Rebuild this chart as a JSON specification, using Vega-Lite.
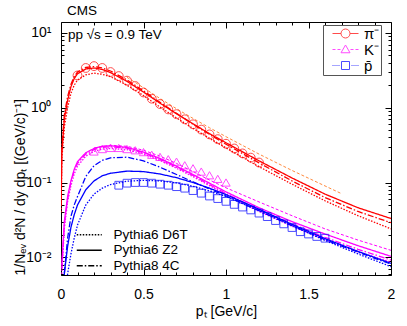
{
"$schema": "https://vega.github.io/schema/vega-lite/v6.json",
"width": 330, "height": 253,
"autosize": {"type": "none"},
"padding": {"left": 61, "top": 22, "right": 16, "bottom": 51},
"background": "white",
"title": {"text": "CMS", "anchor": "start", "frame": "group", "dx": 6, "offset": 4, "fontSize": 13.5, "fontWeight": "normal", "color": "black"},
"datasets": {
"curves": [
{"particle":"π⁻","model":"Pythia6 Z2","pt":0.001,"val":0.05},{"particle":"π⁻","model":"Pythia6 Z2","pt":0.005,"val":0.25},{"particle":"π⁻","model":"Pythia6 Z2","pt":0.02,"val":0.7},{"particle":"π⁻","model":"Pythia6 Z2","pt":0.04,"val":1.25},{"particle":"π⁻","model":"Pythia6 Z2","pt":0.06,"val":1.9},{"particle":"π⁻","model":"Pythia6 Z2","pt":0.08,"val":2.45},{"particle":"π⁻","model":"Pythia6 Z2","pt":0.1,"val":2.85},{"particle":"π⁻","model":"Pythia6 Z2","pt":0.15,"val":3.3},{"particle":"π⁻","model":"Pythia6 Z2","pt":0.2,"val":3.4},{"particle":"π⁻","model":"Pythia6 Z2","pt":0.25,"val":3.25},{"particle":"π⁻","model":"Pythia6 Z2","pt":0.3,"val":2.95},{"particle":"π⁻","model":"Pythia6 Z2","pt":0.4,"val":2.25},{"particle":"π⁻","model":"Pythia6 Z2","pt":0.5,"val":1.62},{"particle":"π⁻","model":"Pythia6 Z2","pt":0.6,"val":1.15},{"particle":"π⁻","model":"Pythia6 Z2","pt":0.7,"val":0.83},{"particle":"π⁻","model":"Pythia6 Z2","pt":0.8,"val":0.61},{"particle":"π⁻","model":"Pythia6 Z2","pt":0.9,"val":0.45},{"particle":"π⁻","model":"Pythia6 Z2","pt":1.0,"val":0.34},{"particle":"π⁻","model":"Pythia6 Z2","pt":1.2,"val":0.195},{"particle":"π⁻","model":"Pythia6 Z2","pt":1.4,"val":0.115},{"particle":"π⁻","model":"Pythia6 Z2","pt":1.6,"val":0.07},{"particle":"π⁻","model":"Pythia6 Z2","pt":1.8,"val":0.046},{"particle":"π⁻","model":"Pythia6 Z2","pt":2.0,"val":0.033},
{"particle":"π⁻","model":"Pythia6 D6T","pt":0.001,"val":0.04},{"particle":"π⁻","model":"Pythia6 D6T","pt":0.005,"val":0.2},{"particle":"π⁻","model":"Pythia6 D6T","pt":0.02,"val":0.55},{"particle":"π⁻","model":"Pythia6 D6T","pt":0.04,"val":1.0},{"particle":"π⁻","model":"Pythia6 D6T","pt":0.06,"val":1.55},{"particle":"π⁻","model":"Pythia6 D6T","pt":0.08,"val":2.0},{"particle":"π⁻","model":"Pythia6 D6T","pt":0.1,"val":2.35},{"particle":"π⁻","model":"Pythia6 D6T","pt":0.15,"val":2.75},{"particle":"π⁻","model":"Pythia6 D6T","pt":0.2,"val":2.9},{"particle":"π⁻","model":"Pythia6 D6T","pt":0.25,"val":2.8},{"particle":"π⁻","model":"Pythia6 D6T","pt":0.3,"val":2.6},{"particle":"π⁻","model":"Pythia6 D6T","pt":0.4,"val":2.0},{"particle":"π⁻","model":"Pythia6 D6T","pt":0.5,"val":1.45},{"particle":"π⁻","model":"Pythia6 D6T","pt":0.6,"val":1.02},{"particle":"π⁻","model":"Pythia6 D6T","pt":0.7,"val":0.73},{"particle":"π⁻","model":"Pythia6 D6T","pt":0.8,"val":0.53},{"particle":"π⁻","model":"Pythia6 D6T","pt":0.9,"val":0.39},{"particle":"π⁻","model":"Pythia6 D6T","pt":1.0,"val":0.29},{"particle":"π⁻","model":"Pythia6 D6T","pt":1.2,"val":0.163},{"particle":"π⁻","model":"Pythia6 D6T","pt":1.4,"val":0.095},{"particle":"π⁻","model":"Pythia6 D6T","pt":1.6,"val":0.057},{"particle":"π⁻","model":"Pythia6 D6T","pt":1.8,"val":0.036},{"particle":"π⁻","model":"Pythia6 D6T","pt":2.0,"val":0.024},
{"particle":"π⁻","model":"Pythia8 4C","pt":0.001,"val":0.06},{"particle":"π⁻","model":"Pythia8 4C","pt":0.005,"val":0.3},{"particle":"π⁻","model":"Pythia8 4C","pt":0.02,"val":0.8},{"particle":"π⁻","model":"Pythia8 4C","pt":0.04,"val":1.4},{"particle":"π⁻","model":"Pythia8 4C","pt":0.06,"val":2.05},{"particle":"π⁻","model":"Pythia8 4C","pt":0.08,"val":2.6},{"particle":"π⁻","model":"Pythia8 4C","pt":0.1,"val":3.0},{"particle":"π⁻","model":"Pythia8 4C","pt":0.15,"val":3.45},{"particle":"π⁻","model":"Pythia8 4C","pt":0.2,"val":3.55},{"particle":"π⁻","model":"Pythia8 4C","pt":0.25,"val":3.4},{"particle":"π⁻","model":"Pythia8 4C","pt":0.3,"val":3.1},{"particle":"π⁻","model":"Pythia8 4C","pt":0.4,"val":2.35},{"particle":"π⁻","model":"Pythia8 4C","pt":0.5,"val":1.68},{"particle":"π⁻","model":"Pythia8 4C","pt":0.6,"val":1.18},{"particle":"π⁻","model":"Pythia8 4C","pt":0.7,"val":0.84},{"particle":"π⁻","model":"Pythia8 4C","pt":0.8,"val":0.6},{"particle":"π⁻","model":"Pythia8 4C","pt":0.9,"val":0.44},{"particle":"π⁻","model":"Pythia8 4C","pt":1.0,"val":0.325},{"particle":"π⁻","model":"Pythia8 4C","pt":1.2,"val":0.183},{"particle":"π⁻","model":"Pythia8 4C","pt":1.4,"val":0.105},{"particle":"π⁻","model":"Pythia8 4C","pt":1.6,"val":0.063},{"particle":"π⁻","model":"Pythia8 4C","pt":1.8,"val":0.041},{"particle":"π⁻","model":"Pythia8 4C","pt":2.0,"val":0.029},
{"particle":"K⁻","model":"Pythia6 Z2","pt":0.005,"val":0.008},{"particle":"K⁻","model":"Pythia6 Z2","pt":0.02,"val":0.03},{"particle":"K⁻","model":"Pythia6 Z2","pt":0.04,"val":0.065},{"particle":"K⁻","model":"Pythia6 Z2","pt":0.06,"val":0.105},{"particle":"K⁻","model":"Pythia6 Z2","pt":0.08,"val":0.15},{"particle":"K⁻","model":"Pythia6 Z2","pt":0.1,"val":0.19},{"particle":"K⁻","model":"Pythia6 Z2","pt":0.15,"val":0.25},{"particle":"K⁻","model":"Pythia6 Z2","pt":0.2,"val":0.285},{"particle":"K⁻","model":"Pythia6 Z2","pt":0.25,"val":0.305},{"particle":"K⁻","model":"Pythia6 Z2","pt":0.3,"val":0.31},{"particle":"K⁻","model":"Pythia6 Z2","pt":0.4,"val":0.295},{"particle":"K⁻","model":"Pythia6 Z2","pt":0.5,"val":0.255},{"particle":"K⁻","model":"Pythia6 Z2","pt":0.6,"val":0.21},{"particle":"K⁻","model":"Pythia6 Z2","pt":0.7,"val":0.165},{"particle":"K⁻","model":"Pythia6 Z2","pt":0.8,"val":0.128},{"particle":"K⁻","model":"Pythia6 Z2","pt":0.9,"val":0.098},{"particle":"K⁻","model":"Pythia6 Z2","pt":1.0,"val":0.075},{"particle":"K⁻","model":"Pythia6 Z2","pt":1.2,"val":0.046},{"particle":"K⁻","model":"Pythia6 Z2","pt":1.4,"val":0.03},{"particle":"K⁻","model":"Pythia6 Z2","pt":1.6,"val":0.0205},{"particle":"K⁻","model":"Pythia6 Z2","pt":1.8,"val":0.0143},{"particle":"K⁻","model":"Pythia6 Z2","pt":2.0,"val":0.0103},
{"particle":"K⁻","model":"Pythia6 D6T","pt":0.005,"val":0.006},{"particle":"K⁻","model":"Pythia6 D6T","pt":0.02,"val":0.024},{"particle":"K⁻","model":"Pythia6 D6T","pt":0.04,"val":0.055},{"particle":"K⁻","model":"Pythia6 D6T","pt":0.06,"val":0.09},{"particle":"K⁻","model":"Pythia6 D6T","pt":0.08,"val":0.13},{"particle":"K⁻","model":"Pythia6 D6T","pt":0.1,"val":0.165},{"particle":"K⁻","model":"Pythia6 D6T","pt":0.15,"val":0.225},{"particle":"K⁻","model":"Pythia6 D6T","pt":0.2,"val":0.26},{"particle":"K⁻","model":"Pythia6 D6T","pt":0.25,"val":0.28},{"particle":"K⁻","model":"Pythia6 D6T","pt":0.3,"val":0.285},{"particle":"K⁻","model":"Pythia6 D6T","pt":0.4,"val":0.275},{"particle":"K⁻","model":"Pythia6 D6T","pt":0.5,"val":0.24},{"particle":"K⁻","model":"Pythia6 D6T","pt":0.6,"val":0.197},{"particle":"K⁻","model":"Pythia6 D6T","pt":0.7,"val":0.155},{"particle":"K⁻","model":"Pythia6 D6T","pt":0.8,"val":0.12},{"particle":"K⁻","model":"Pythia6 D6T","pt":0.9,"val":0.091},{"particle":"K⁻","model":"Pythia6 D6T","pt":1.0,"val":0.069},{"particle":"K⁻","model":"Pythia6 D6T","pt":1.2,"val":0.041},{"particle":"K⁻","model":"Pythia6 D6T","pt":1.4,"val":0.026},{"particle":"K⁻","model":"Pythia6 D6T","pt":1.6,"val":0.0172},{"particle":"K⁻","model":"Pythia6 D6T","pt":1.8,"val":0.0118},{"particle":"K⁻","model":"Pythia6 D6T","pt":2.0,"val":0.0086},
{"particle":"K⁻","model":"Pythia8 4C","pt":0.005,"val":0.007},{"particle":"K⁻","model":"Pythia8 4C","pt":0.02,"val":0.027},{"particle":"K⁻","model":"Pythia8 4C","pt":0.04,"val":0.06},{"particle":"K⁻","model":"Pythia8 4C","pt":0.06,"val":0.1},{"particle":"K⁻","model":"Pythia8 4C","pt":0.08,"val":0.142},{"particle":"K⁻","model":"Pythia8 4C","pt":0.1,"val":0.18},{"particle":"K⁻","model":"Pythia8 4C","pt":0.15,"val":0.24},{"particle":"K⁻","model":"Pythia8 4C","pt":0.2,"val":0.275},{"particle":"K⁻","model":"Pythia8 4C","pt":0.25,"val":0.295},{"particle":"K⁻","model":"Pythia8 4C","pt":0.3,"val":0.3},{"particle":"K⁻","model":"Pythia8 4C","pt":0.4,"val":0.288},{"particle":"K⁻","model":"Pythia8 4C","pt":0.5,"val":0.25},{"particle":"K⁻","model":"Pythia8 4C","pt":0.6,"val":0.205},{"particle":"K⁻","model":"Pythia8 4C","pt":0.7,"val":0.16},{"particle":"K⁻","model":"Pythia8 4C","pt":0.8,"val":0.124},{"particle":"K⁻","model":"Pythia8 4C","pt":0.9,"val":0.094},{"particle":"K⁻","model":"Pythia8 4C","pt":1.0,"val":0.071},{"particle":"K⁻","model":"Pythia8 4C","pt":1.2,"val":0.043},{"particle":"K⁻","model":"Pythia8 4C","pt":1.4,"val":0.028},{"particle":"K⁻","model":"Pythia8 4C","pt":1.6,"val":0.0185},{"particle":"K⁻","model":"Pythia8 4C","pt":1.8,"val":0.0128},{"particle":"K⁻","model":"Pythia8 4C","pt":2.0,"val":0.0092},
{"particle":"p̄","model":"Pythia6 Z2","pt":0.005,"val":0.001},{"particle":"p̄","model":"Pythia6 Z2","pt":0.02,"val":0.006},{"particle":"p̄","model":"Pythia6 Z2","pt":0.04,"val":0.014},{"particle":"p̄","model":"Pythia6 Z2","pt":0.06,"val":0.025},{"particle":"p̄","model":"Pythia6 Z2","pt":0.08,"val":0.037},{"particle":"p̄","model":"Pythia6 Z2","pt":0.1,"val":0.05},{"particle":"p̄","model":"Pythia6 Z2","pt":0.15,"val":0.08},{"particle":"p̄","model":"Pythia6 Z2","pt":0.2,"val":0.105},{"particle":"p̄","model":"Pythia6 Z2","pt":0.25,"val":0.123},{"particle":"p̄","model":"Pythia6 Z2","pt":0.3,"val":0.133},{"particle":"p̄","model":"Pythia6 Z2","pt":0.4,"val":0.142},{"particle":"p̄","model":"Pythia6 Z2","pt":0.5,"val":0.14},{"particle":"p̄","model":"Pythia6 Z2","pt":0.6,"val":0.13},{"particle":"p̄","model":"Pythia6 Z2","pt":0.7,"val":0.116},{"particle":"p̄","model":"Pythia6 Z2","pt":0.8,"val":0.1},{"particle":"p̄","model":"Pythia6 Z2","pt":0.9,"val":0.084},{"particle":"p̄","model":"Pythia6 Z2","pt":1.0,"val":0.069},{"particle":"p̄","model":"Pythia6 Z2","pt":1.2,"val":0.044},{"particle":"p̄","model":"Pythia6 Z2","pt":1.4,"val":0.0275},{"particle":"p̄","model":"Pythia6 Z2","pt":1.6,"val":0.0178},{"particle":"p̄","model":"Pythia6 Z2","pt":1.8,"val":0.012},{"particle":"p̄","model":"Pythia6 Z2","pt":2.0,"val":0.0083},
{"particle":"p̄","model":"Pythia6 D6T","pt":0.005,"val":0.0004},{"particle":"p̄","model":"Pythia6 D6T","pt":0.02,"val":0.002},{"particle":"p̄","model":"Pythia6 D6T","pt":0.04,"val":0.006},{"particle":"p̄","model":"Pythia6 D6T","pt":0.06,"val":0.011},{"particle":"p̄","model":"Pythia6 D6T","pt":0.08,"val":0.018},{"particle":"p̄","model":"Pythia6 D6T","pt":0.1,"val":0.027},{"particle":"p̄","model":"Pythia6 D6T","pt":0.15,"val":0.05},{"particle":"p̄","model":"Pythia6 D6T","pt":0.2,"val":0.07},{"particle":"p̄","model":"Pythia6 D6T","pt":0.25,"val":0.084},{"particle":"p̄","model":"Pythia6 D6T","pt":0.3,"val":0.094},{"particle":"p̄","model":"Pythia6 D6T","pt":0.4,"val":0.104},{"particle":"p̄","model":"Pythia6 D6T","pt":0.5,"val":0.107},{"particle":"p̄","model":"Pythia6 D6T","pt":0.6,"val":0.105},{"particle":"p̄","model":"Pythia6 D6T","pt":0.7,"val":0.099},{"particle":"p̄","model":"Pythia6 D6T","pt":0.8,"val":0.089},{"particle":"p̄","model":"Pythia6 D6T","pt":0.9,"val":0.077},{"particle":"p̄","model":"Pythia6 D6T","pt":1.0,"val":0.065},{"particle":"p̄","model":"Pythia6 D6T","pt":1.2,"val":0.042},{"particle":"p̄","model":"Pythia6 D6T","pt":1.4,"val":0.0265},{"particle":"p̄","model":"Pythia6 D6T","pt":1.6,"val":0.0168},{"particle":"p̄","model":"Pythia6 D6T","pt":1.8,"val":0.0111},{"particle":"p̄","model":"Pythia6 D6T","pt":2.0,"val":0.0075},
{"particle":"p̄","model":"Pythia8 4C","pt":0.005,"val":0.0015},{"particle":"p̄","model":"Pythia8 4C","pt":0.02,"val":0.006},{"particle":"p̄","model":"Pythia8 4C","pt":0.04,"val":0.018},{"particle":"p̄","model":"Pythia8 4C","pt":0.06,"val":0.035},{"particle":"p̄","model":"Pythia8 4C","pt":0.08,"val":0.05},{"particle":"p̄","model":"Pythia8 4C","pt":0.1,"val":0.065},{"particle":"p̄","model":"Pythia8 4C","pt":0.15,"val":0.12},{"particle":"p̄","model":"Pythia8 4C","pt":0.2,"val":0.168},{"particle":"p̄","model":"Pythia8 4C","pt":0.25,"val":0.198},{"particle":"p̄","model":"Pythia8 4C","pt":0.3,"val":0.214},{"particle":"p̄","model":"Pythia8 4C","pt":0.4,"val":0.218},{"particle":"p̄","model":"Pythia8 4C","pt":0.5,"val":0.195},{"particle":"p̄","model":"Pythia8 4C","pt":0.6,"val":0.16},{"particle":"p̄","model":"Pythia8 4C","pt":0.7,"val":0.128},{"particle":"p̄","model":"Pythia8 4C","pt":0.8,"val":0.102},{"particle":"p̄","model":"Pythia8 4C","pt":0.9,"val":0.082},{"particle":"p̄","model":"Pythia8 4C","pt":1.0,"val":0.066},{"particle":"p̄","model":"Pythia8 4C","pt":1.2,"val":0.042},{"particle":"p̄","model":"Pythia8 4C","pt":1.4,"val":0.0265},{"particle":"p̄","model":"Pythia8 4C","pt":1.6,"val":0.0172},{"particle":"p̄","model":"Pythia8 4C","pt":1.8,"val":0.0117},{"particle":"p̄","model":"Pythia8 4C","pt":2.0,"val":0.0081}
],
"piExtra": [
{"pt":0.4,"val":2.55},{"pt":0.5,"val":1.85},{"pt":0.6,"val":1.33},{"pt":0.7,"val":0.97},{"pt":0.8,"val":0.72},{"pt":0.9,"val":0.54},{"pt":1.0,"val":0.41},{"pt":1.2,"val":0.24},{"pt":1.4,"val":0.145},{"pt":1.6,"val":0.09},{"pt":1.7,"val":0.071}
],
"kExtra": [
{"pt":0.2,"val":0.29},{"pt":0.3,"val":0.315},{"pt":0.4,"val":0.305},{"pt":0.5,"val":0.27},{"pt":0.6,"val":0.225},{"pt":0.7,"val":0.18},{"pt":0.8,"val":0.14},{"pt":0.9,"val":0.108},{"pt":1.0,"val":0.085},{"pt":1.2,"val":0.055},{"pt":1.4,"val":0.036},{"pt":1.6,"val":0.024},{"pt":1.8,"val":0.017},{"pt":2.0,"val":0.0124}
],
"points": [
{"particle":"π⁻","pt":0.10,"val":2.7},{"particle":"π⁻","pt":0.15,"val":3.4},{"particle":"π⁻","pt":0.20,"val":3.6},{"particle":"π⁻","pt":0.25,"val":3.4},{"particle":"π⁻","pt":0.30,"val":3.0},{"particle":"π⁻","pt":0.35,"val":2.65},{"particle":"π⁻","pt":0.40,"val":2.3},{"particle":"π⁻","pt":0.45,"val":1.95},{"particle":"π⁻","pt":0.50,"val":1.6},{"particle":"π⁻","pt":0.55,"val":1.32},{"particle":"π⁻","pt":0.60,"val":1.12},{"particle":"π⁻","pt":0.65,"val":0.95},{"particle":"π⁻","pt":0.70,"val":0.82},{"particle":"π⁻","pt":0.75,"val":0.70},{"particle":"π⁻","pt":0.80,"val":0.60},{"particle":"π⁻","pt":0.85,"val":0.51},{"particle":"π⁻","pt":0.90,"val":0.44},{"particle":"π⁻","pt":0.95,"val":0.38},{"particle":"π⁻","pt":1.00,"val":0.33},{"particle":"π⁻","pt":1.05,"val":0.285},{"particle":"π⁻","pt":1.10,"val":0.245},{"particle":"π⁻","pt":1.15,"val":0.215},{"particle":"π⁻","pt":1.20,"val":0.185},
{"particle":"K⁻","pt":0.20,"val":0.26},{"particle":"K⁻","pt":0.25,"val":0.28},{"particle":"K⁻","pt":0.30,"val":0.29},{"particle":"K⁻","pt":0.35,"val":0.29},{"particle":"K⁻","pt":0.40,"val":0.28},{"particle":"K⁻","pt":0.45,"val":0.27},{"particle":"K⁻","pt":0.50,"val":0.255},{"particle":"K⁻","pt":0.55,"val":0.235},{"particle":"K⁻","pt":0.60,"val":0.22},{"particle":"K⁻","pt":0.65,"val":0.205},{"particle":"K⁻","pt":0.70,"val":0.19},{"particle":"K⁻","pt":0.75,"val":0.17},{"particle":"K⁻","pt":0.80,"val":0.155},{"particle":"K⁻","pt":0.85,"val":0.14},{"particle":"K⁻","pt":0.90,"val":0.125},{"particle":"K⁻","pt":0.95,"val":0.112},{"particle":"K⁻","pt":1.00,"val":0.10},
{"particle":"p̄","pt":0.35,"val":0.092},{"particle":"p̄","pt":0.40,"val":0.098},{"particle":"p̄","pt":0.45,"val":0.1},{"particle":"p̄","pt":0.50,"val":0.1},{"particle":"p̄","pt":0.55,"val":0.098},{"particle":"p̄","pt":0.60,"val":0.095},{"particle":"p̄","pt":0.65,"val":0.092},{"particle":"p̄","pt":0.70,"val":0.088},{"particle":"p̄","pt":0.75,"val":0.084},{"particle":"p̄","pt":0.80,"val":0.078},{"particle":"p̄","pt":0.85,"val":0.072},{"particle":"p̄","pt":0.90,"val":0.066},{"particle":"p̄","pt":0.95,"val":0.061},{"particle":"p̄","pt":1.00,"val":0.056},{"particle":"p̄","pt":1.05,"val":0.051},{"particle":"p̄","pt":1.10,"val":0.047},{"particle":"p̄","pt":1.15,"val":0.043},{"particle":"p̄","pt":1.20,"val":0.039},{"particle":"p̄","pt":1.25,"val":0.035},{"particle":"p̄","pt":1.30,"val":0.031},{"particle":"p̄","pt":1.35,"val":0.028},{"particle":"p̄","pt":1.40,"val":0.025},{"particle":"p̄","pt":1.45,"val":0.022},{"particle":"p̄","pt":1.50,"val":0.0205},{"particle":"p̄","pt":1.55,"val":0.019},{"particle":"p̄","pt":1.60,"val":0.018}
]
},
"layer": [
{
"data": {"name": "piExtra"},
"mark": {"type": "line", "color": "#ff8a3d", "strokeWidth": 1, "strokeDash": [3, 2], "clip": true},
"encoding": {
"x": {"field": "pt", "type": "quantitative", "scale": {"domain": [0, 2], "nice": false, "zero": false}, "axis": null},
"y": {"field": "val", "type": "quantitative", "scale": {"type": "log", "domain": [0.0058, 14], "nice": false}, "axis": null}
}
},
{
"data": {"name": "kExtra"},
"mark": {"type": "line", "color": "#ff00ff", "strokeWidth": 1, "strokeDash": [3, 2], "clip": true},
"encoding": {
"x": {"field": "pt", "type": "quantitative", "scale": {"domain": [0, 2], "nice": false, "zero": false}, "axis": null},
"y": {"field": "val", "type": "quantitative", "scale": {"type": "log", "domain": [0.0058, 14], "nice": false}, "axis": null}
}
},
{
"data": {"name": "points"},
"transform": [{"filter": "false"}],
"mark": {"type": "point", "filled": false, "strokeWidth": 1},
"encoding": {
"x": {"field": "pt", "type": "quantitative", "scale": {"domain": [0, 2], "nice": false, "zero": false}, "axis": null},
"y": {"field": "val", "type": "quantitative", "scale": {"type": "log", "domain": [0.0058, 14], "nice": false}, "axis": null},
"color": {"field": "particle", "type": "nominal", "scale": {"domain": ["π⁻", "K⁻", "p̄"], "range": ["#ff0000", "#ff00ff", "#0000ff"]},
 "legend": {"title": null, "orient": "none", "legendX": 262, "legendY": 3, "padding": 1, "strokeColor": "#555555", "labelFontSize": 15, "labelOffset": 25, "rowPadding": 0, "symbolSize": 100, "symbolStrokeWidth": 1, "symbolFillColor": "transparent"}},
"shape": {"field": "particle", "type": "nominal", "scale": {"domain": ["π⁻", "K⁻", "p̄"], "range": ["M0.2,0H1.9M3.7,0H5.4M1.9,0A0.9,0.9,0,1,1,3.7,0A0.9,0.9,0,1,1,1.9,0", "M1.9,0.65L2.8,-0.9L3.7,0.65ZM0.2,0H0.8M1.2,0H1.8M3.8,0H4.4M4.8,0H5.4", "M2,-0.8H3.6V0.8H2ZM0.2,0H0.4M0.6,0H0.8M1,0H1.2M1.4,0H1.6M4,0H4.2M4.4,0H4.6M4.8,0H5M5.2,0H5.4"]},
 "legend": {"title": null, "orient": "none", "legendX": 262, "legendY": 3, "padding": 1, "strokeColor": "#555555", "labelFontSize": 15, "labelOffset": 25, "rowPadding": 0, "symbolSize": 100, "symbolStrokeWidth": 1, "symbolFillColor": "transparent"}}
}
},
{
"data": {"name": "curves"},
"mark": {"type": "line", "strokeWidth": 1.3, "clip": true},
"encoding": {
"x": {"field": "pt", "type": "quantitative", "scale": {"domain": [0, 2], "nice": false, "zero": false},
 "axis": {"orient": "bottom", "values": [0, 0.5, 1, 1.5, 2], "format": "~g", "ticks": false, "domain": false, "labelPadding": 12, "labelFlush": false, "title": "pₜ [GeV/c]", "titlePadding": 3}},
"y": {"field": "val", "type": "quantitative", "scale": {"type": "log", "domain": [0.0058, 14], "nice": false},
 "axis": {"orient": "left", "values": [0.01, 0.1, 1, 10], "labelExpr": "datum.value >= 5 ? '10¹' : datum.value >= 0.5 ? '10⁰' : datum.value >= 0.05 ? '10⁻¹' : '10⁻²'", "ticks": false, "domain": false, "labelPadding": 10, "title": "1/Nₑᵥ d²N / dy dpₜ [(GeV/c)⁻¹]", "titleAnchor": "start", "titlePadding": -2}},
"color": {"field": "particle", "type": "nominal"},
"strokeDash": {"field": "model", "type": "nominal", "scale": {"domain": ["Pythia6 D6T", "Pythia6 Z2", "Pythia8 4C"], "range": [[1.5, 1.5], [1, 0], [6, 2, 1.5, 2]]},
 "legend": {"title": null, "orient": "none", "legendX": 9, "legendY": 206, "padding": 0, "labelFontSize": 13.5, "labelOffset": 30, "rowPadding": 0.5, "symbolType": "M0,0H5", "symbolSize": 100, "symbolStrokeColor": "black", "symbolStrokeWidth": 1.3}}
}
},
{
"data": {"name": "points"},
"transform": [{"filter": "datum.particle === 'π⁻'"}],
"mark": {"type": "point", "shape": "circle", "filled": false, "strokeWidth": 1, "size": 78, "clip": true},
"encoding": {
"x": {"field": "pt", "type": "quantitative", "scale": {"domain": [0, 2], "nice": false, "zero": false}, "axis": null},
"y": {"field": "val", "type": "quantitative", "scale": {"type": "log", "domain": [0.0058, 14], "nice": false}, "axis": null},
"color": {"field": "particle", "type": "nominal"}
}
},
{
"data": {"name": "points"},
"transform": [{"filter": "datum.particle === 'K⁻'"}],
"mark": {"type": "point", "shape": "triangle-up", "filled": false, "strokeWidth": 1, "size": 70, "clip": true},
"encoding": {
"x": {"field": "pt", "type": "quantitative", "scale": {"domain": [0, 2], "nice": false, "zero": false}, "axis": null},
"y": {"field": "val", "type": "quantitative", "scale": {"type": "log", "domain": [0.0058, 14], "nice": false}, "axis": null},
"color": {"field": "particle", "type": "nominal"}
}
},
{
"data": {"name": "points"},
"transform": [{"filter": "datum.particle !== 'π⁻' && datum.particle !== 'K⁻'"}],
"mark": {"type": "point", "shape": "square", "filled": false, "strokeWidth": 1, "size": 60, "clip": true},
"encoding": {
"x": {"field": "pt", "type": "quantitative", "scale": {"domain": [0, 2], "nice": false, "zero": false}, "axis": null},
"y": {"field": "val", "type": "quantitative", "scale": {"type": "log", "domain": [0.0058, 14], "nice": false}, "axis": null},
"color": {"field": "particle", "type": "nominal"}
}
},
{
"data": {"values": [{}]},
"mark": {"type": "text", "align": "left", "baseline": "middle", "fontSize": 13.5, "text": "pp √s = 0.9 TeV", "color": "black"},
"encoding": {
"x": {"datum": 0.042, "type": "quantitative", "scale": {"domain": [0, 2], "nice": false, "zero": false}, "axis": null},
"y": {"datum": 9.4, "type": "quantitative", "scale": {"type": "log", "domain": [0.0058, 14], "nice": false}, "axis": null}
}
},
{
"data": {"values": [{}]},
"mark": {"type": "point", "opacity": 0},
"encoding": {
"x": {"datum": 1, "type": "quantitative", "scale": {"domain": [0, 2], "nice": false, "zero": false}, "axis": {"orient": "bottom", "values": [0, 0.5, 1, 1.5, 2], "labels": false, "title": null, "domain": false, "tickSize": -6}},
"y": {"datum": 1, "type": "quantitative", "scale": {"type": "log", "domain": [0.0058, 14], "nice": false}, "axis": {"orient": "left", "values": [0.01, 0.1, 1, 10], "labels": false, "title": null, "domain": false, "tickSize": -6}}
}
},
{
"data": {"values": [{}]},
"mark": {"type": "point", "opacity": 0},
"encoding": {
"x": {"datum": 1, "type": "quantitative", "scale": {"domain": [0, 2], "nice": false, "zero": false}, "axis": {"orient": "top", "values": [0, 0.5, 1, 1.5, 2], "labels": false, "title": null, "domain": false, "tickSize": -6}},
"y": {"datum": 1, "type": "quantitative", "scale": {"type": "log", "domain": [0.0058, 14], "nice": false}, "axis": {"orient": "right", "values": [0.01, 0.1, 1, 10], "labels": false, "title": null, "domain": false, "tickSize": -6}}
}
},
{
"data": {"values": [{}]},
"mark": {"type": "point", "opacity": 0},
"encoding": {
"x": {"datum": 1, "type": "quantitative", "scale": {"domain": [0, 2], "nice": false, "zero": false}, "axis": {"orient": "bottom", "values": [0.1, 0.2, 0.3, 0.4, 0.6, 0.7, 0.8, 0.9, 1.1, 1.2, 1.3, 1.4, 1.6, 1.7, 1.8, 1.9], "labels": false, "title": null, "domain": false, "tickSize": -3}},
"y": {"datum": 1, "type": "quantitative", "scale": {"type": "log", "domain": [0.0058, 14], "nice": false}, "axis": {"orient": "left", "values": [0.006, 0.007, 0.008, 0.009, 0.02, 0.03, 0.04, 0.05, 0.06, 0.07, 0.08, 0.09, 0.2, 0.3, 0.4, 0.5, 0.6, 0.7, 0.8, 0.9, 2, 3, 4, 5, 6, 7, 8, 9], "labels": false, "title": null, "domain": false, "tickSize": -3}}
}
},
{
"data": {"values": [{}]},
"mark": {"type": "point", "opacity": 0},
"encoding": {
"x": {"datum": 1, "type": "quantitative", "scale": {"domain": [0, 2], "nice": false, "zero": false}, "axis": {"orient": "top", "values": [0.1, 0.2, 0.3, 0.4, 0.6, 0.7, 0.8, 0.9, 1.1, 1.2, 1.3, 1.4, 1.6, 1.7, 1.8, 1.9], "labels": false, "title": null, "domain": false, "tickSize": -3}},
"y": {"datum": 1, "type": "quantitative", "scale": {"type": "log", "domain": [0.0058, 14], "nice": false}, "axis": {"orient": "right", "values": [0.006, 0.007, 0.008, 0.009, 0.02, 0.03, 0.04, 0.05, 0.06, 0.07, 0.08, 0.09, 0.2, 0.3, 0.4, 0.5, 0.6, 0.7, 0.8, 0.9, 2, 3, 4, 5, 6, 7, 8, 9], "labels": false, "title": null, "domain": false, "tickSize": -3}}
}
}
],
"resolve": {"axis": {"x": "independent", "y": "independent"}},
"config": {
"font": "Liberation Sans",
"view": {"stroke": "black", "strokeWidth": 1},
"axis": {"grid": false, "domain": false, "labelColor": "black", "titleColor": "black", "tickColor": "black", "tickWidth": 1, "labelFontSize": 14, "titleFontSize": 14, "titleFontWeight": "normal"},
"legend": {"labelColor": "black", "labelFont": "Liberation Sans"}
}
}
